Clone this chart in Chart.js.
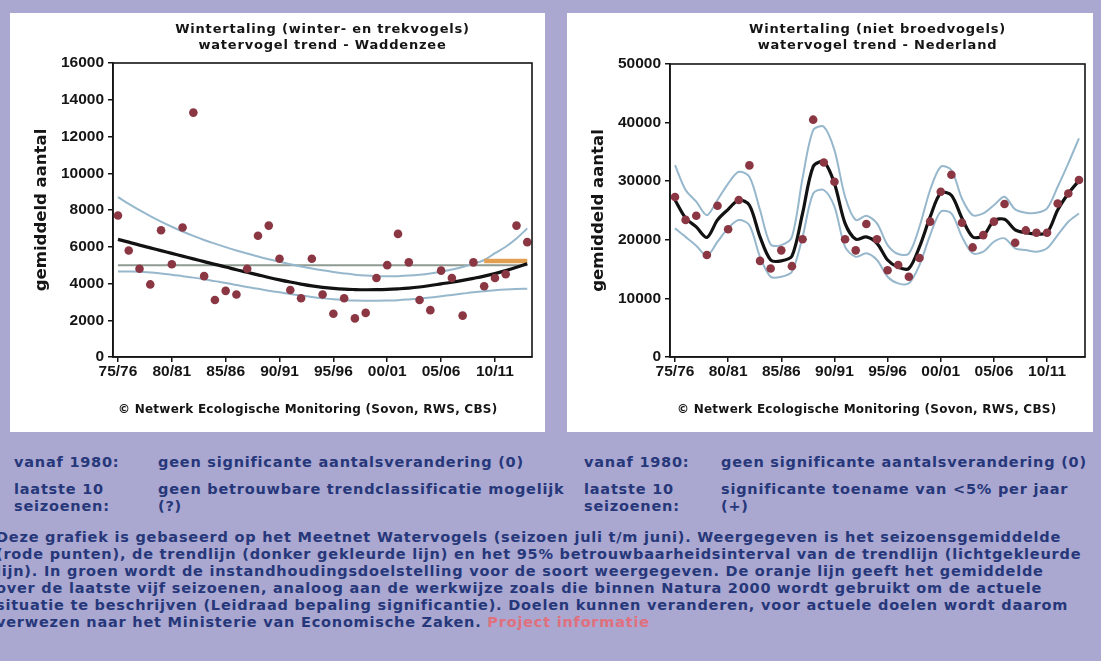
<!DOCTYPE html>
<html><head><meta charset="utf-8">
<script src="https://cdn.jsdelivr.net/npm/chart.js@4"></script>
<style>
html,body{margin:0;padding:0;}
body{width:1101px;height:661px;background:#aaa7d0;position:relative;overflow:hidden;font-family:"DejaVu Sans",Verdana,sans-serif;}
.panel{position:absolute;background:#fff;}
#p1{left:10px;top:13px;width:535px;height:419px;}
#p2{left:567px;top:13px;width:526px;height:419px;}
canvas{display:block;}
.t{position:absolute;color:#26377a;font-size:14.5px;font-weight:bold;letter-spacing:0.78px;white-space:nowrap;line-height:17px;}
.link{color:#e0707e;}
</style></head>
<body>
<div class="panel" id="p1"><canvas id="c1" width="535" height="419"></canvas></div>
<div class="panel" id="p2"><canvas id="c2" width="526" height="419"></canvas></div>

<div class="t" style="left:14px;top:454px">vanaf 1980:</div>
<div class="t" style="left:158px;top:454px">geen significante aantalsverandering (0)</div>
<div class="t" style="left:14px;top:481px">laatste 10<br>seizoenen:</div>
<div class="t" style="left:158px;top:481px">geen betrouwbare trendclassificatie mogelijk<br>(?)</div>
<div class="t" style="left:584px;top:454px">vanaf 1980:</div>
<div class="t" style="left:721px;top:454px">geen significante aantalsverandering (0)</div>
<div class="t" style="left:584px;top:481px">laatste 10<br>seizoenen:</div>
<div class="t" style="left:721px;top:481px">significante toename van &lt;5% per jaar<br>(+)</div>

<div class="t" style="left:-4px;top:529px">Deze grafiek is gebaseerd op het Meetnet Watervogels (seizoen juli t/m juni). Weergegeven is het seizoensgemiddelde<br>(rode punten), de trendlijn (donker gekleurde lijn) en het 95% betrouwbaarheidsinterval van de trendlijn (lichtgekleurde<br>lijn). In groen wordt de instandhoudingsdoelstelling voor de soort weergegeven. De oranje lijn geeft het gemiddelde<br>over de laatste vijf seizoenen, analoog aan de werkwijze zoals die binnen Natura 2000 wordt gebruikt om de actuele<br>situatie te beschrijven (Leidraad bepaling significantie). Doelen kunnen veranderen, voor actuele doelen wordt daarom<br>verwezen naar het Ministerie van Economische Zaken. <span class="link">Project informatie</span></div>

<script>
const seasons = ['75/76','76/77','77/78','78/79','79/80','80/81','81/82','82/83','83/84','84/85','85/86','86/87','87/88','88/89','89/90','90/91','91/92','92/93','93/94','94/95','95/96','96/97','97/98','98/99','99/00','00/01','01/02','02/03','03/04','04/05','05/06','06/07','07/08','08/09','09/10','10/11','11/12','12/13','13/14'];
const tickSeasons = ['75/76','80/81','85/86','90/91','95/96','00/01','05/06','10/11'];

// Waddenzee (winter- en trekvogels)
const waddenCounts = [7700,5800,4800,3950,6900,5050,7050,13300,4400,3100,3600,3400,4800,6600,7150,5350,3650,3200,5350,3400,2350,3200,2100,2400,4300,5000,6700,5150,3100,2550,4700,4300,2250,5150,3850,4300,4500,7150,6250];
const waddenTrend = [6400,6250,6090,5940,5790,5640,5490,5340,5190,5040,4900,4750,4610,4470,4330,4200,4080,3970,3870,3790,3730,3690,3670,3660,3665,3680,3710,3750,3810,3890,3980,4070,4170,4280,4400,4540,4700,4880,5080];
const waddenUpper = [8700,8330,7990,7670,7370,7090,6830,6590,6370,6170,5980,5800,5630,5470,5320,5180,5050,4930,4820,4720,4630,4550,4480,4430,4400,4390,4400,4430,4480,4550,4640,4760,4900,5070,5280,5650,6000,6450,7000];
const waddenLower = [4650,4650,4640,4600,4550,4480,4400,4320,4230,4130,4030,3920,3810,3710,3610,3520,3430,3350,3270,3200,3140,3100,3070,3060,3060,3070,3090,3130,3180,3240,3310,3380,3450,3520,3580,3630,3670,3700,3720];
const waddenTarget = 5000;
const waddenLast5Mean = 5230;
const last5Seasons = ['09/10','13/14'];

// Nederland (niet broedvogels)
const nlCounts = [27300,23400,24100,17400,25800,21800,26800,32700,16400,15100,18200,15500,20100,40500,33200,29900,20100,18200,22700,20100,14800,15700,13700,16900,23100,28200,31100,22900,18700,20800,23100,26100,19500,21600,21200,21200,26200,27900,30200];
const nlTrend = [26800,23700,22200,20400,23400,25200,26800,25900,20500,16550,16400,17200,24500,32500,33300,29600,22800,20100,20500,19400,16550,15300,15100,18800,23900,28000,27600,23660,20500,20700,23250,23500,21700,21200,21000,21200,25080,27900,30100];
const nlUpper = [32750,28500,26500,24200,26800,29600,31600,30750,25080,19200,19100,20500,30500,38700,39300,35300,27350,23370,24100,22800,19100,17570,17650,22230,28500,32470,31900,27000,24200,24500,25900,27350,25200,24620,24600,25370,29050,33050,37300];
const nlLower = [21950,20500,19000,17300,19670,22000,23370,22500,17100,13700,13700,14550,20500,27900,28500,25650,18800,17100,17700,16550,13700,12570,12570,15700,20800,24800,24500,20500,17700,17970,19670,20250,18550,18250,17970,18550,20800,23080,24500];

const footerText = '\u00a9 Netwerk Ecologische Monitoring (Sovon, RWS, CBS)';

const pts = arr => arr.map((v,i)=>({x:i,y:v}));
const tickIdx = tickSeasons.map(s=>seasons.indexOf(s));

const framePlugin = {
  id:'frame',
  afterDraw(chart, args, o){
    const {ctx, chartArea:a} = chart;
    ctx.save();
    ctx.strokeStyle='#151515'; ctx.lineWidth=1.6;
    ctx.strokeRect(a.left, a.top, a.right-a.left, a.bottom-a.top);
    ctx.fillStyle='#151515';
    ctx.font='bold 13px "DejaVu Sans"';
    ctx.letterSpacing='0.8px';
    ctx.textAlign='center'; ctx.textBaseline='middle';
    const cx=(a.left+a.right)/2;
    o.title.forEach((t,k)=>ctx.fillText(t, cx, o.titleY + k*16));
    ctx.textAlign='left';
    ctx.font='bold 12px "DejaVu Sans"';
    ctx.letterSpacing='0.25px';
    ctx.fillText(footerText, a.left+o.footerDx, o.footerY);
    ctx.restore();
  }
};

function build(id, c){
  const ci = '#96b7cc';
  const ds = [
    {data:pts(c.counts), showLine:false, pointRadius:4.3, pointBackgroundColor:'#8b3743', pointBorderWidth:0, order:0},
    {data:pts(c.trend), borderColor:'#121212', borderWidth:3.2, pointRadius:0, tension:c.tension, order:1},
    {data:pts(c.upper), borderColor:ci, borderWidth:2, pointRadius:0, tension:c.tension, order:3},
    {data:pts(c.lower), borderColor:ci, borderWidth:2, pointRadius:0, tension:c.tension, order:3},
  ];
  if (c.target !== undefined) {
    ds.push({data:[{x:0,y:c.target},{x:seasons.length-1,y:c.target}], borderColor:'#8f9a92', borderWidth:2, pointRadius:0, order:4});
  }
  if (c.mean !== undefined) {
    ds.push({data:[{x:seasons.indexOf(last5Seasons[0]),y:c.mean},{x:seasons.indexOf(last5Seasons[1]),y:c.mean}], borderColor:'#e3a052', borderWidth:4.5, pointRadius:0, order:2});
  }
  const tickFont = {family:'Liberation Sans', weight:'bold', size:15.5};
  new Chart(document.getElementById(id), {
    type:'line',
    data:{datasets:ds},
    plugins:[framePlugin],
    options:{
      responsive:false, animation:false, devicePixelRatio:1,
      layout:{padding:{left:0, top:c.padTop, right:c.padRight, bottom:0}},
      plugins:{legend:{display:false}, tooltip:{enabled:false}, title:{display:false},
        frame:{title:c.title, titleY:c.titleY, footerY:c.footerY, footerDx:c.footerDx}},
      scales:{
        x:{type:'linear', min:c.xmin, max:c.xmax,
          afterBuildTicks:s=>{s.ticks = tickIdx.map(v=>({value:v}));},
          afterFit:s=>{s.height = c.xH;},
          ticks:{callback:v=>seasons[v], font:tickFont, color:'#151515', padding:0, maxRotation:0, autoSkip:false},
          grid:{display:true, drawOnChartArea:false, drawTicks:true, tickLength:5, color:'#151515', lineWidth:1.5},
          border:{display:true, color:'#151515', width:1.6}},
        y:{min:0, max:c.ymax,
          afterFit:s=>{s.width = c.yW;},
          ticks:{stepSize:c.step, callback:v=>String(v), font:tickFont, color:'#151515', padding:4},
          grid:{display:true, drawOnChartArea:false, drawTicks:true, tickLength:5, color:'#151515', lineWidth:1.5},
          border:{display:true, color:'#151515', width:1.6},
          title:{display:true, text:'gemiddeld aantal', font:{family:'DejaVu Sans', size:16.5, weight:'bold'}, color:'#151515', padding:{top:22,bottom:0}}}
      }
    }
  });
}

build('c1', {counts:waddenCounts, trend:waddenTrend, upper:waddenUpper, lower:waddenLower, target:waddenTarget, mean:waddenLast5Mean,
  ymax:16000, step:2000, xmin:-0.46, xmax:38.44, padTop:50, padRight:13, yW:103, xH:75, tension:0.4,
  title:['Wintertaling (winter- en trekvogels)','watervogel trend - Waddenzee'], titleY:17, footerY:397, footerDx:5});
build('c2', {counts:nlCounts, trend:nlTrend, upper:nlUpper, lower:nlLower,
  ymax:50000, step:10000, xmin:-0.47, xmax:38.57, padTop:51, padRight:8, yW:103, xH:75, tension:0.3,
  title:['Wintertaling (niet broedvogels)','watervogel trend - Nederland'], titleY:17, footerY:397, footerDx:7});
</script>
</body></html>
